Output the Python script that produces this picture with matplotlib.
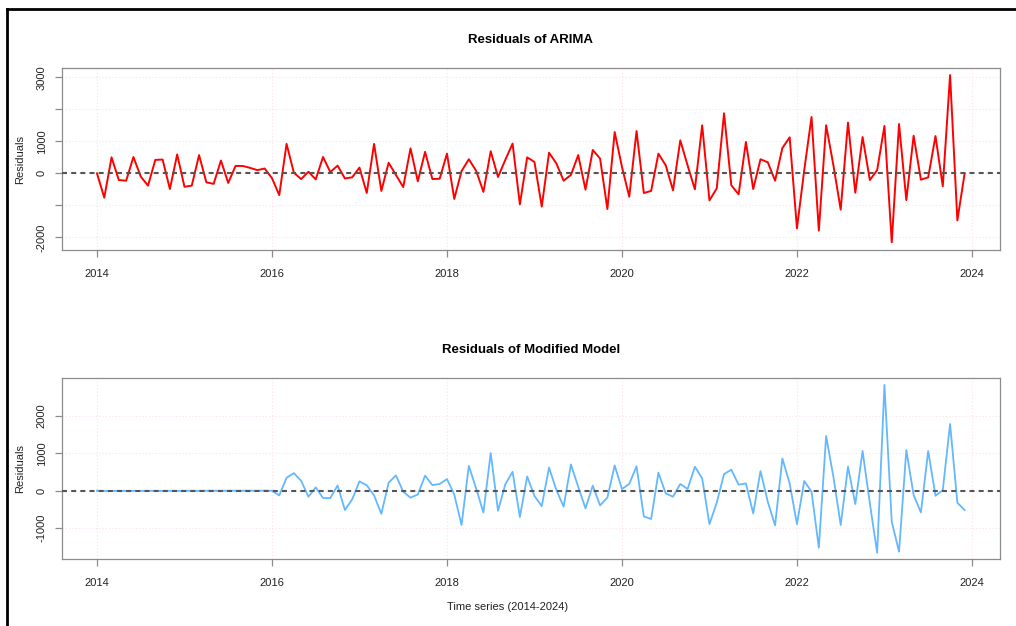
import numpy as np
import matplotlib
matplotlib.use("Agg")
import matplotlib.pyplot as plt
from matplotlib.lines import Line2D

plt.rcParams['font.family'] = ['Liberation Sans', 'DejaVu Sans']

# monthly residuals, Jan 2014 - Dec 2023
arima_resid = [
    0, -760, 500, -210, -230, 510, -100, -385, 420, 430, -490, 590,
    -420, -385, 570, -280, -330, 400, -300, 230, 230, 170, 100, 150,
    -150, -680, 920, 20, -180, 50, -190, 510, 40, 240, -160, -125,
    180, -615, 920, -550, 330, -50, -430, 780, -250, 670, -180, -170,
    615, -800, 70, 440, 80, -580, 690, -115, 420, 930, -970, 500,
    355, -1040, 645, 310, -230, -50, 570, -510, 730, 460, -1115, 1290,
    200, -730, 1320, -615, -550, 615, 250, -530, 1030, 250, -500, 1500,
    -845, -470, 1875, -375, -655, 980, -490, 440, 345, -230, 790, 1125,
    -1720, 100, 1760, -1790, 1500, 250, -1135, 1585, -605, 1135, -210, 100,
    1480, -2155, 1540, -835, 1175, -200, -125, 1165, -405, 3070, -1470, 0,
]

modified_resid = [
    0, -5, -5, -3, -4, -3, -5, -2, -3, -4, -2, -3,
    -2, -1, -2, -1, 0, -1, 0, 1, 0, 1, 1, 2,
    0, -125, 345, 470, 265, -160, 90, -195, -195, 140, -515, -230,
    250, 145, -125, -615, 215, 410, -25, -185, -100, 400, 150, 180,
    310, -100, -915, 665, 60, -580, 1005, -535, 170, 505, -700, 380,
    -140, -410, 620, 20, -425, 700, 105, -470, 135, -390, -185, 675,
    45, 180, 650, -685, -755, 480, -70, -160, 180, 45, 640, 330,
    -890, -320, 445, 560, 160, 195, -605, 525, -295, -925, 860, 195,
    -890, 260, -25, -1520, 1460, 370, -915, 640, -355, 1060, -340, -1655,
    2820, -825, -1625, 1085, -115, -580, 1060, -135, 20, 1780, -320, -515,
]

years = [2014, 2016, 2018, 2020, 2022, 2024]
time = 2014 + np.arange(len(arima_resid)) / 12.0

grid_col = '#ffdfe4'
box_col = '#8c8c8c'
txt_col = '#222222'


def style_axes(ax, yticks, ylabels, ylim):
    ax.set_xlim(2013.6, 2024.32)
    ax.set_ylim(*ylim)
    ax.set_xticks(years)
    ax.set_xticklabels([str(y) for y in years])
    ax.set_yticks(yticks)
    ax.set_yticklabels(ylabels, rotation=90, va='center')
    for y in yticks:
        ax.axhline(y, color=grid_col, lw=0.8, ls=(0, (1, 2)), zorder=0)
    for x in years:
        ax.axvline(x, color=grid_col, lw=0.8, ls=(0, (1, 2)), zorder=0)
    for s in ax.spines.values():
        s.set_color(box_col)
        s.set_linewidth(0.9)
    ax.tick_params(axis='both', colors=box_col, labelcolor=txt_col,
                   labelsize=8, length=5, width=0.9, direction='out')
    ax.tick_params(axis='x', pad=9)
    ax.tick_params(axis='y', pad=6)
    ax.set_ylabel('Residuals', fontsize=8, color=txt_col, labelpad=8)
    ax.axhline(0, color='#555555', lw=1.5, ls=(0, (2.4, 2.0)), zorder=3)


fig = plt.figure(figsize=(10.16, 6.26), dpi=100)

ax1 = fig.add_axes([0.0610, 0.6006, 0.9232, 0.2907])
ax1.plot(time, arima_resid, color='#ff0000', lw=1.4, zorder=2)
style_axes(ax1, [-2000, -1000, 0, 1000, 2000, 3000],
           ['-2000', '', '0', '1000', '', '3000'], (-2397, 3290))
ax1.set_title('Residuals of ARIMA', fontsize=9.5, fontweight='bold', pad=18)

ax2 = fig.add_axes([0.0610, 0.1070, 0.9232, 0.2891])
ax2.plot(time, modified_resid, color='#63b8ff', lw=1.3, zorder=2)
style_axes(ax2, [-1000, 0, 1000, 2000],
           ['-1000', '0', '1000', '2000'], (-1821, 3005))
ax2.set_title('Residuals of Modified Model', fontsize=9.5, fontweight='bold', pad=18)

fig.text(0.5, 1 - 607 / 626, 'Time series (2014-2024)', ha='center', va='center',
         fontsize=8, color=txt_col)

# screenshot frame
fig.add_artist(Line2D([0.007, 0.007], [0, 0.986], color='black', lw=2, transform=fig.transFigure))
fig.add_artist(Line2D([0.007, 1.0], [0.986, 0.986], color='black', lw=2, transform=fig.transFigure))

fig.savefig('out.png', dpi=100)
